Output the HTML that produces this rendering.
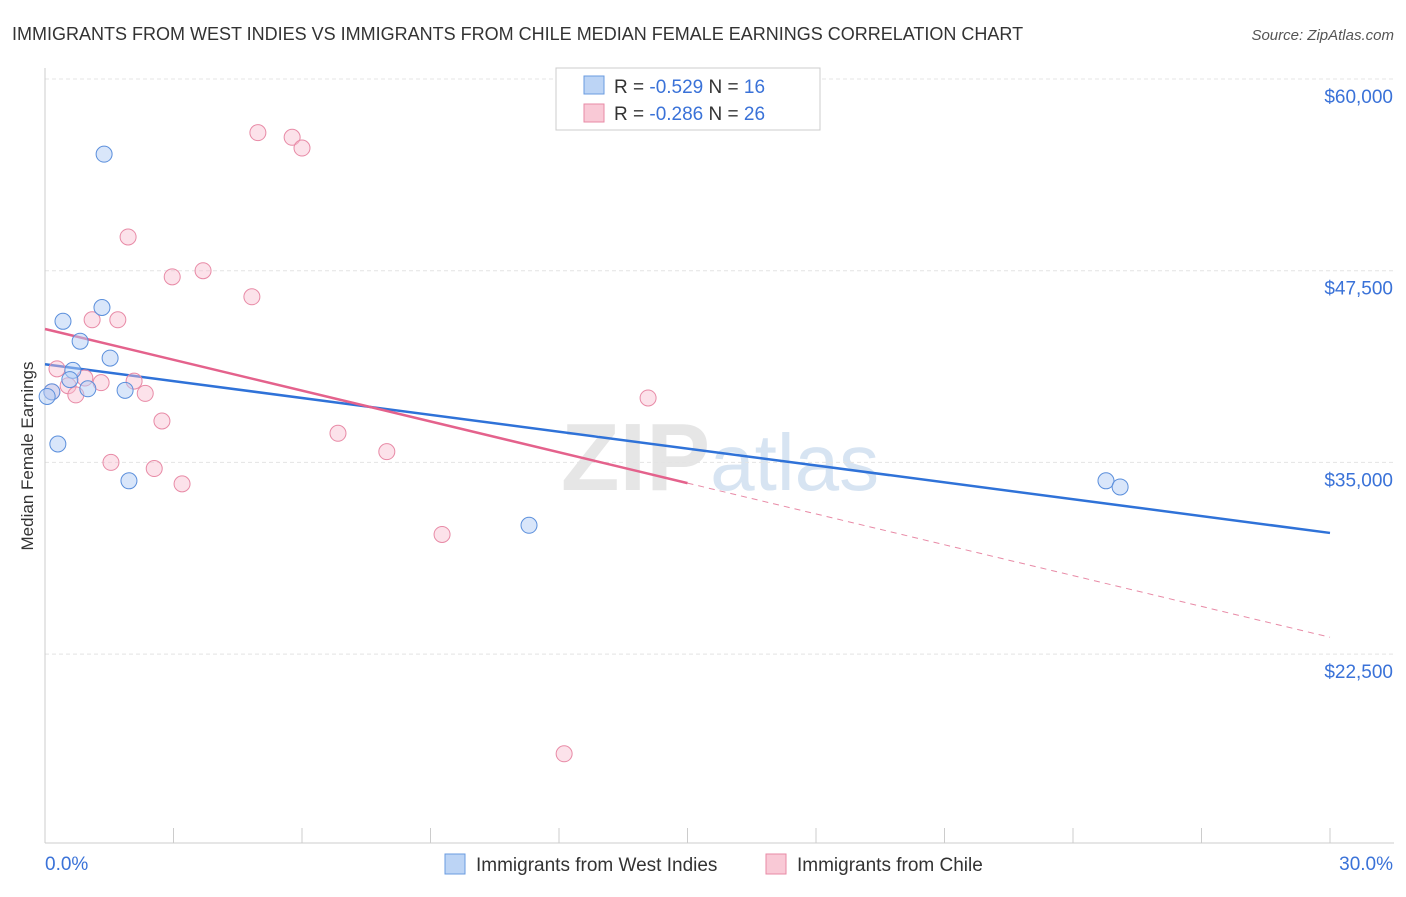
<!DOCTYPE html>
<html><head><meta charset="utf-8"><style>
body{margin:0;background:#fff;font-family:"Liberation Sans",sans-serif;}
svg text{font-family:"Liberation Sans",sans-serif;}
</style></head><body>
<svg id="chart" width="1406" height="892" xmlns="http://www.w3.org/2000/svg">
<text x="12" y="40" font-size="18" fill="#333">IMMIGRANTS FROM WEST INDIES VS IMMIGRANTS FROM CHILE MEDIAN FEMALE EARNINGS CORRELATION CHART</text>
<text x="1394" y="40" font-size="15" fill="#555" text-anchor="end" font-style="italic">Source: ZipAtlas.com</text>
<text x="33" y="456" font-size="17" fill="#333" text-anchor="middle" transform="rotate(-90 33 456)">Median Female Earnings</text>
<text x="720" y="490" font-size="96" fill="#e6e6e6" text-anchor="middle" font-family="Liberation Serif" font-weight="bold">ZIP<tspan fill="#d7e4f2" font-family="Liberation Sans" font-weight="normal" font-size="80">atlas</tspan></text>
<g id="grid"></g><g id="axes"></g><g id="lines"></g><g id="points"></g>
<g>
<rect x="556" y="68" width="264" height="62" fill="#fff" stroke="#ccc"/>
<rect x="584" y="76" width="20" height="18" fill="#bcd4f5" stroke="#6a9be0"/>
<rect x="584" y="104" width="20" height="18" fill="#f9c9d6" stroke="#e88aa6"/>
<text x="614" y="93" font-size="19" fill="#333">R = <tspan fill="#3a72d8">-0.529</tspan>   N = <tspan fill="#3a72d8">16</tspan></text>
<text x="614" y="120" font-size="19" fill="#333">R = <tspan fill="#3a72d8">-0.286</tspan>   N = <tspan fill="#3a72d8">26</tspan></text>
</g>
<g>
<rect x="445" y="854" width="20" height="20" fill="#bcd4f5" stroke="#6a9be0"/>
<text x="476" y="871" font-size="19" fill="#333">Immigrants from West Indies</text>
<rect x="766" y="854" width="20" height="20" fill="#f9c9d6" stroke="#e88aa6"/>
<text x="797" y="871" font-size="19" fill="#333">Immigrants from Chile</text>
</g>
</svg>
<script>
const yTicks=[60000,47500,35000,22500];
const yTickLabels=["$60,000","$47,500","$35,000","$22,500"];
const xLabels=["0.0%","30.0%"];
const blueX=[1.38,1.33,0.42,0.82,1.52,0.65,0.58,1.0,1.87,0.16,0.05,0.3,1.96,11.3,24.77,25.1];
const blueY=[55100,45100,44200,42900,41800,41000,40400,39800,39700,39600,39300,36200,33800,30900,33800,33400];
const pinkX=[4.97,5.77,6.0,1.94,3.69,2.97,4.83,1.1,1.7,0.28,0.93,1.31,2.08,0.54,0.72,2.34,0.16,2.73,6.84,7.98,1.54,2.55,3.2,14.08,9.27,12.12];
const pinkY=[56500,56200,55500,49700,47500,47100,45800,44300,44300,41100,40500,40200,40300,40000,39400,39500,39600,37700,36900,35700,35000,34600,33600,39200,30300,16000];
const blueTrend=[41400,30400]; // value at 0% and 30%
const pinkTrend=[43700,23600]; // value at 0% and 30%
const pinkSolidEnd=15;
const NS="http://www.w3.org/2000/svg";
const X=p=>45+p*(1330-45)/30;
const Y=v=>79+(60000-v)*(191.7/12500);
function mk(tag,attrs,parent){const e=document.createElementNS(NS,tag);for(const k in attrs)e.setAttribute(k,attrs[k]);parent.appendChild(e);return e;}
const grid=document.getElementById('grid'),axes=document.getElementById('axes'),lines=document.getElementById('lines'),pts=document.getElementById('points');
yTicks.forEach((v,i)=>{
 const l=mk('line',{x1:45,x2:1394,y1:Y(v),y2:Y(v),stroke:'#e4e4e4','stroke-dasharray':'4,3'},grid);
 
 
 const t=mk('text',{x:1393,y:Y(v)+24,'font-size':19,fill:'#3a72d8','text-anchor':'end'},axes);
 t.textContent=yTickLabels[i];
 
 
});
const ya=mk('line',{x1:45,x2:45,y1:68,y2:843,stroke:'#ccc'},axes);


const xa=mk('line',{x1:45,x2:1394,y1:843,y2:843,stroke:'#ccc'},axes);


for(let i=0;i<=10;i++){const t=mk('line',{x1:X(i*3),x2:X(i*3),y1:828,y2:843,stroke:'#ccc'},axes);
 
 }
const xl0=mk('text',{x:45,y:870,'font-size':19,fill:'#3a72d8'},axes);xl0.textContent=xLabels[0];


const xl1=mk('text',{x:1393,y:870,'font-size':19,fill:'#3a72d8','text-anchor':'end'},axes);xl1.textContent=xLabels[1];


const tv=(tr,p)=>tr[0]+(tr[1]-tr[0])*p/30;
const bl=mk('line',{x1:X(0),y1:Y(blueTrend[0]),x2:X(30),y2:Y(blueTrend[1]),stroke:'#2f72d8','stroke-width':2.5},lines);


const pl=mk('line',{x1:X(0),y1:Y(pinkTrend[0]),x2:X(pinkSolidEnd),y2:Y(tv(pinkTrend,pinkSolidEnd)),stroke:'#e4628c','stroke-width':2.5},lines);


const pd=mk('line',{x1:X(pinkSolidEnd),y1:Y(tv(pinkTrend,pinkSolidEnd)),x2:X(30),y2:Y(pinkTrend[1]),stroke:'#e88aa6','stroke-width':1,'stroke-dasharray':'6,5'},lines);


pinkX.forEach((x,i)=>{const c=mk('circle',{cx:X(x),cy:Y(pinkY[i]),r:8,fill:'rgba(248,190,208,0.45)',stroke:'#e88aa6','stroke-width':1},pts);
 
 });
blueX.forEach((x,i)=>{const c=mk('circle',{cx:X(x),cy:Y(blueY[i]),r:8,fill:'rgba(180,205,245,0.5)',stroke:'#5b8fdc','stroke-width':1},pts);
 
 });
</script>
</body></html>
